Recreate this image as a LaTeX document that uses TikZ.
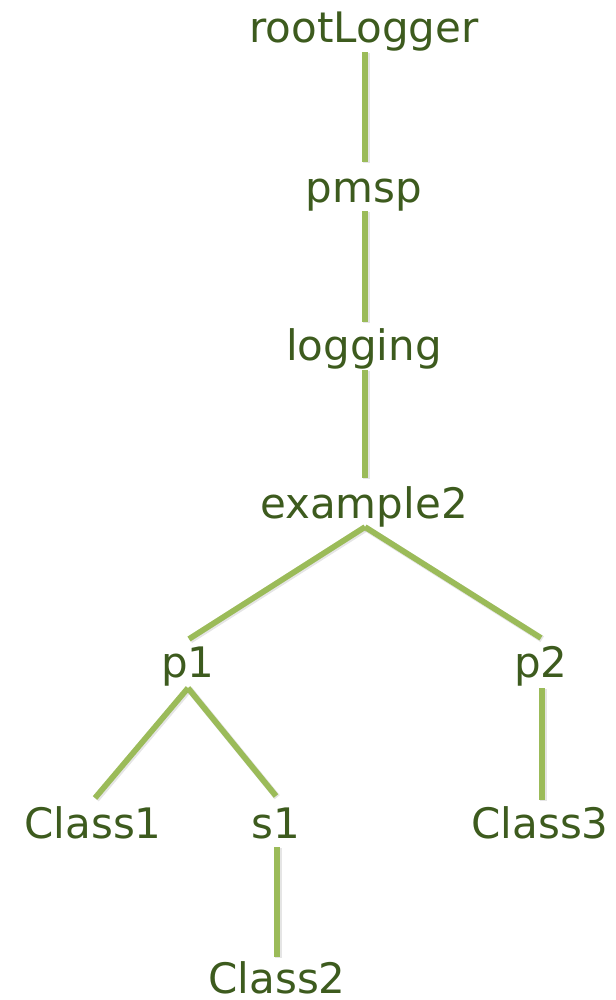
\documentclass[tikz,border=0pt]{standalone}
\usepackage{fontspec}
\setmainfont{DejaVu Sans}
\usetikzlibrary{calc}
\definecolor{labelgreen}{HTML}{3D5B1E}
\definecolor{edgegreen}{HTML}{9BBB59}
\tikzset{
  lbl/.style={anchor=base, inner sep=0pt, text=labelgreen, font=\fontsize{31.5}{38}\selectfont},
  edge/.style={draw=edgegreen, line width=4.3pt},
  edgeshade/.style={draw=black, opacity=0.10, line width=5pt}
}
\begin{document}
\begin{tikzpicture}[x=0.75pt, y=-0.75pt]
  \useasboundingbox (0,0) rectangle (615,1000);
  % labels, placed on their baselines
  \node[lbl] (root) at (364,42)  {rootLogger};
  \node[lbl] (pmsp) at (364,202) {pmsp};
  \node[lbl] (log)  at (364,360) {logging};
  \node[lbl] (ex)   at (364,518) {example2};
  \node[lbl] (p1)   at (188,677) {p1};
  \node[lbl] (p2)   at (541,677) {p2};
  \node[lbl] (c1)   at (93,838)  {Class1};
  \node[lbl] (s1)   at (276,838) {s1};
  \node[lbl] (c3)   at (540,838) {Class3};
  \node[lbl] (c2)   at (277,993) {Class2};
  % tree edges
  \foreach \a/\ax/\ay/\b/\bx/\by in {
      root/1/10/pmsp/1/-40,
      pmsp/1/9/log/1/-38,
      log/1/10/ex/1/-40,
      ex/1/9/p1/1/-38,
      ex/1/9/p2/0/-39,
      p1/0/11/c1/2/-40,
      p1/0/11/s1/0/-42,
      p2/1/11/c3/2/-38,
      s1/1/9/c2/0/-36} {
    \draw[edgeshade] ($(\a.base)+(\ax+1.2,\ay+1.2)$) -- ($(\b.base)+(\bx+1.2,\by+1.2)$);
    \draw[edge] ($(\a.base)+(\ax,\ay)$) -- ($(\b.base)+(\bx,\by)$);
  }
\end{tikzpicture}
\end{document}
